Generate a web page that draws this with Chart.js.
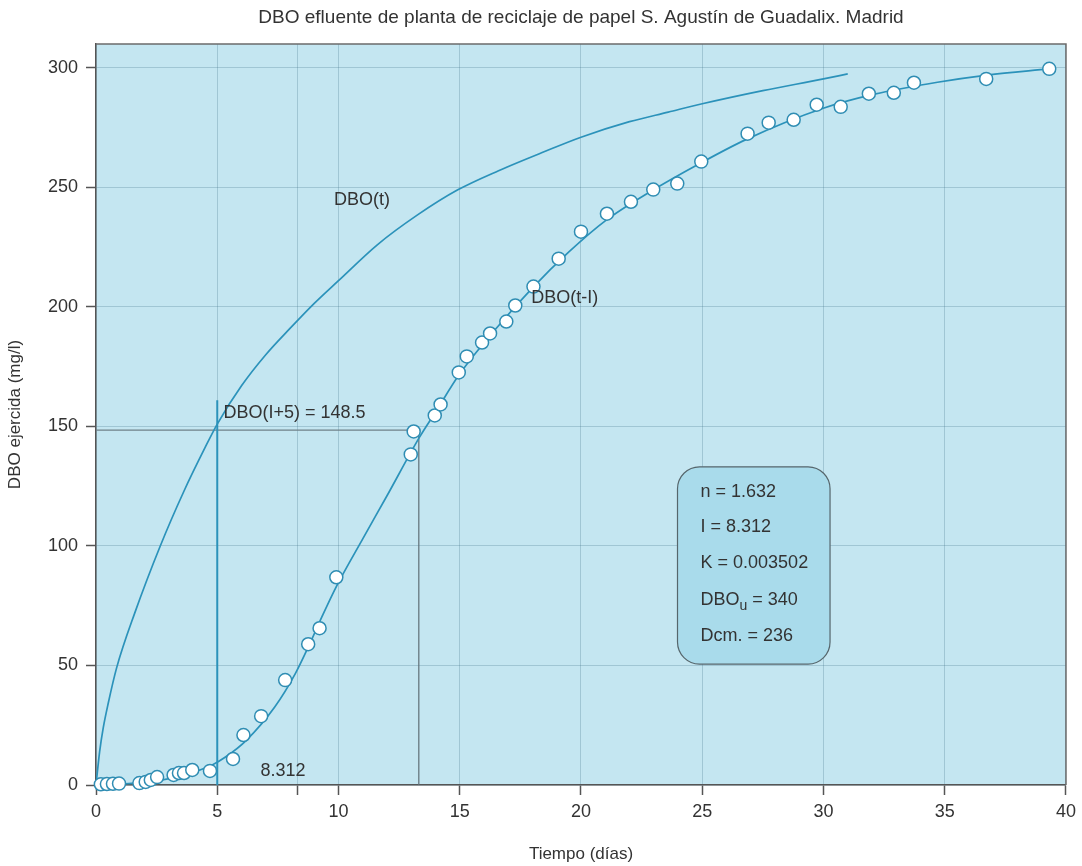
<!DOCTYPE html>
<html lang="es">
<head>
<meta charset="utf-8">
<title>DBO efluente de planta de reciclaje de papel</title>
<script src="https://cdn.jsdelivr.net/npm/chart.js@4.4.1/dist/chart.umd.min.js"></script>
<style>
  html, body { margin: 0; padding: 0; background: #fff; }
  #wrap { width: 1082px; height: 866px; }
</style>
</head>
<body>
<div id="wrap"><canvas id="dboChart"></canvas></div>
<script>
// datos
const tObs = [0.2, 0.45, 0.7, 0.95, 1.79, 2.05, 2.26, 2.52, 3.2, 3.42, 3.63, 3.97, 4.7,
  5.65, 6.08, 6.81, 7.8, 8.75, 9.22, 9.91, 12.98, 13.1, 13.97, 14.21, 14.96, 15.29,
  15.92, 16.25, 16.92, 17.29, 18.04, 19.08, 20.0, 21.07, 22.06, 22.98, 23.97, 24.96,
  26.87, 27.74, 28.77, 29.72, 30.71, 31.87, 32.9, 33.73, 36.71, 39.31];
const dboObs = [0.3, 0.4, 0.5, 0.6, 0.8, 1.3, 2.1, 3.3, 4.2, 5.0, 5.0, 6.3, 5.9,
  10.9, 20.9, 28.8, 43.9, 58.9, 65.6, 86.9, 138.3, 147.9, 154.6, 159.2, 172.6, 179.3,
  185.1, 188.9, 193.9, 200.6, 208.5, 220.2, 231.5, 239.0, 244.0, 249.1, 251.6, 260.8,
  272.5, 277.1, 278.3, 284.6, 283.7, 289.2, 289.6, 293.8, 295.4, 299.6];

// curva DBO(t)
const tCurve = [0, 0.15, 0.3, 0.5, 0.85, 1.6, 2.65, 3.63, 4.49, 5, 6, 7, 8, 9, 10,
  11.6, 13.26, 14.92, 16.6, 18.5, 20, 22, 23.6, 25, 27.5, 30, 31];
const dboCurve = [0, 14, 24, 34, 49, 72, 100, 123, 141, 151, 167, 180, 191, 201.5, 211,
  226, 238.5, 249, 257, 265, 271, 277.5, 281.5, 285, 290.5, 295.4, 297.5];

// curva ajustada DBO(t-I)
const tFit = [0, 2.22, 3.63, 4.79, 5.34, 6.21, 7.37, 8.23, 8.79, 9.3, 9.91, 11, 12,
  13.312, 14, 15, 16.5, 18, 19.5, 21, 22.82, 24.9, 26.8, 29.96, 32.1, 34.7, 36.75, 39.3];
const dboFit = [0, 1.3, 4.2, 8.4, 11.7, 18.8, 32.6, 46.8, 58.5, 70, 83, 103, 121,
  145, 156, 172, 191, 208, 223, 236, 248, 260, 270, 283, 289, 294, 297, 299.6];

const xTicks = [0, 5, 8.312, 10, 15, 20, 25, 30, 35, 40];
const xLabelled = [0, 5, 10, 15, 20, 25, 30, 35, 40];
const yTicks = [0, 50, 100, 150, 200, 250, 300];

const I = 8.312;
const dboI5 = 148.5;
const params = ['n = 1.632', 'I = 8.312', 'K = 0.003502', 'DBOu = 340', 'Dcm. = 236'];

const FONT = 'Liberation Sans, Arial, Helvetica, sans-serif';
const BLUE = '#2b92ba';
const TEXT = '#333';

Chart.defaults.font.family = FONT;
Chart.defaults.color = TEXT;

function pts(xs, ys) {
  return xs.map((x, i) => ({ x: x, y: ys[i] }));
}

// fondo, marco, rotulos y recuadro de parametros
const paperPlugin = {
  id: 'paper',
  beforeDraw(chart) {
    const { ctx, chartArea: a } = chart;
    ctx.save();
    ctx.fillStyle = '#c4e6f1';
    ctx.fillRect(a.left, a.top, a.right - a.left, a.bottom - a.top);
    ctx.restore();
  },
  afterDatasetsDraw(chart) {
    const { ctx } = chart;
    const xs = chart.scales.x, ys = chart.scales.y;
    const px = v => xs.getPixelForValue(v);
    const py = v => ys.getPixelForValue(v);

    ctx.save();
    ctx.fillStyle = TEXT;
    ctx.font = '18px ' + FONT;
    ctx.textAlign = 'left';
    ctx.textBaseline = 'middle';
    ctx.fillText('DBO(t)', px(9.81), py(244.8));
    ctx.fillText('DBO(t-I)', px(17.95), py(203.8));
    ctx.fillText('DBO(I+5) = ' + dboI5, px(5.26), py(155.6));
    ctx.fillText(String(I), px(6.78), py(5.9));

    // recuadro redondeado
    const l = px(23.98), r = px(30.27), t = py(133.1), b = py(50.6), rad = 22;
    ctx.beginPath();
    ctx.moveTo(l + rad, t);
    ctx.arcTo(r, t, r, b, rad);
    ctx.arcTo(r, b, l, b, rad);
    ctx.arcTo(l, b, l, t, rad);
    ctx.arcTo(l, t, r, t, rad);
    ctx.closePath();
    ctx.fillStyle = '#a9dbeb';
    ctx.fill();
    ctx.lineWidth = 1.2;
    ctx.strokeStyle = '#56666c';
    ctx.stroke();

    const rowsV = [122.6, 107.9, 92.9, 77.4, 62.3];
    const tx = px(24.93);
    ctx.fillStyle = TEXT;
    params.forEach((txt, i) => {
      const y = py(rowsV[i]);
      if (txt.startsWith('DBOu')) {
        ctx.font = '18px ' + FONT;
        ctx.fillText('DBO', tx, y);
        let w = ctx.measureText('DBO').width;
        ctx.font = '14px ' + FONT;
        ctx.fillText('u', tx + w, y + 6);
        w += ctx.measureText('u').width;
        ctx.font = '18px ' + FONT;
        ctx.fillText(' = 340', tx + w, y);
      } else {
        ctx.font = '18px ' + FONT;
        ctx.fillText(txt, tx, y);
      }
    });
    ctx.restore();
  },
  afterDraw(chart) {
    const { ctx, chartArea: a } = chart;
    ctx.save();
    ctx.strokeStyle = '#6b6b6b';
    ctx.lineWidth = 1.5;
    ctx.beginPath();
    ctx.moveTo(a.left, a.top);
    ctx.lineTo(a.right, a.top);
    ctx.lineTo(a.right, a.bottom);
    ctx.stroke();
    ctx.restore();
  }
};

const ctx = document.getElementById('dboChart').getContext('2d');
new Chart(ctx, {
  type: 'line',
  data: {
    datasets: [
      {
        label: 'Datos',
        data: pts(tObs, dboObs),
        showLine: false,
        pointRadius: 6.5,
        pointBackgroundColor: '#ffffff',
        pointBorderColor: '#2f8db3',
        pointBorderWidth: 1.5,
        clip: false
      },
      {
        label: 'DBO(t-I)',
        data: pts(tFit, dboFit),
        borderColor: BLUE,
        borderWidth: 1.7,
        pointRadius: 0,
        cubicInterpolationMode: 'monotone'
      },
      {
        label: 'DBO(t)',
        data: pts(tCurve, dboCurve),
        borderColor: BLUE,
        borderWidth: 1.7,
        pointRadius: 0,
        cubicInterpolationMode: 'monotone'
      },
      {
        label: 't = 5',
        data: [{ x: 5, y: 0 }, { x: 5, y: 161 }],
        borderColor: BLUE,
        borderWidth: 2,
        pointRadius: 0
      },
      {
        label: 'DBO(I+5)',
        data: [{ x: 0, y: dboI5 }, { x: I + 5, y: dboI5 }],
        borderColor: '#6f8088',
        borderWidth: 1.2,
        pointRadius: 0
      },
      {
        label: 't = I+5',
        data: [{ x: I + 5, y: 0 }, { x: I + 5, y: dboI5 }],
        borderColor: '#5f6f76',
        borderWidth: 1.2,
        pointRadius: 0
      }
    ]
  },
  options: {
    responsive: true,
    maintainAspectRatio: false,
    animation: false,
    layout: { padding: { left: 0, right: 12, top: 0, bottom: 0 } },
    plugins: {
      legend: { display: false },
      tooltip: { enabled: false },
      title: {
        display: true,
        fullSize: false,
        text: 'DBO efluente de planta de reciclaje de papel S. Agustín de Guadalix. Madrid',
        color: TEXT,
        font: { size: 19, weight: 'normal' },
        padding: { top: 6.5, bottom: 14.7 }
      }
    },
    scales: {
      x: {
        type: 'linear',
        min: 0,
        max: 40,
        afterBuildTicks: s => { s.ticks = xTicks.map(v => ({ value: v })); },
        afterFit: s => { s.height = 81; },
        grid: { color: 'rgba(70,115,135,0.28)', lineWidth: 1, tickLength: 10, tickColor: '#555', tickWidth: 1.5 },
        border: { color: '#555', width: 1.5 },
        ticks: {
          autoSkip: false,
          maxRotation: 0,
          padding: 6,
          color: TEXT,
          font: { size: 18 },
          callback: v => xLabelled.includes(v) ? String(v) : ''
        },
        title: {
          display: true,
          text: 'Tiempo (días)',
          color: TEXT,
          font: { size: 17 },
          padding: { top: 0, bottom: 1 }
        }
      },
      y: {
        type: 'linear',
        min: 0,
        max: 310,
        afterBuildTicks: s => { s.ticks = yTicks.map(v => ({ value: v })); },
        afterFit: s => { s.width = 96; },
        grid: { color: 'rgba(70,115,135,0.28)', lineWidth: 1, tickLength: 10, tickColor: '#555', tickWidth: 1.5 },
        border: { color: '#555', width: 1.5 },
        ticks: { padding: 8, color: TEXT, font: { size: 18 } },
        title: {
          display: true,
          text: 'DBO ejercida (mg/l)',
          color: TEXT,
          font: { size: 17 },
          padding: { top: 5, bottom: 0 }
        }
      }
    }
  },
  plugins: [paperPlugin]
});
</script>
</body>
</html>
